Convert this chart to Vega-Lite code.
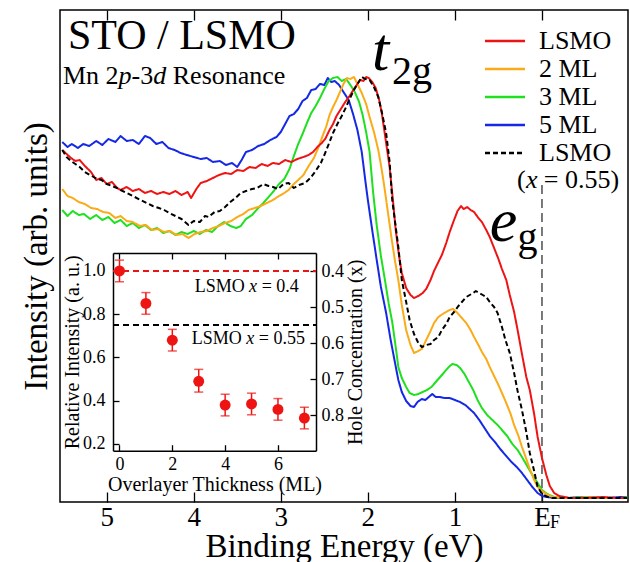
{
  "$schema": "https://vega.github.io/schema/vega-lite/v6.json",
  "width": 568,
  "height": 492,
  "autosize": "none",
  "padding": {"left": 60, "top": 10, "right": 2, "bottom": 60},
  "background": "white",
  "config": {
    "view": {"stroke": "black", "strokeWidth": 1.5},
    "font": "Times New Roman, Liberation Serif, DejaVu Serif, serif",
    "axis": {"labelFont": "Times New Roman, Liberation Serif, DejaVu Serif, serif", "titleFont": "Times New Roman, Liberation Serif, DejaVu Serif, serif", "titleFontWeight": "normal", "labelColor": "black", "titleColor": "black", "tickColor": "black", "domainColor": "black", "grid": false, "labelFlush": false, "labelOverlap": false, "tickWidth": 1.3, "domainWidth": 1.5},
    "legend": {"labelFont": "Times New Roman, Liberation Serif, DejaVu Serif, serif"},
    "text": {"font": "Times New Roman, Liberation Serif, DejaVu Serif, serif", "color": "black"}
  },
  "datasets": {
    "spectra": [
      {"s":"5 ML","e":5.51,"i":360},{"s":"5 ML","e":5.45,"i":355},{"s":"5 ML","e":5.40,"i":358},{"s":"5 ML","e":5.33,"i":354},{"s":"5 ML","e":5.27,"i":358},{"s":"5 ML","e":5.20,"i":356},{"s":"5 ML","e":5.12,"i":361},{"s":"5 ML","e":5.05,"i":357},{"s":"5 ML","e":4.98,"i":363},{"s":"5 ML","e":4.90,"i":360},{"s":"5 ML","e":4.84,"i":366},{"s":"5 ML","e":4.77,"i":361},{"s":"5 ML","e":4.70,"i":362},{"s":"5 ML","e":4.63,"i":358},{"s":"5 ML","e":4.56,"i":366},{"s":"5 ML","e":4.50,"i":364},{"s":"5 ML","e":4.43,"i":358},{"s":"5 ML","e":4.36,"i":360},{"s":"5 ML","e":4.29,"i":354},{"s":"5 ML","e":4.22,"i":352},{"s":"5 ML","e":4.15,"i":349},{"s":"5 ML","e":4.08,"i":347},{"s":"5 ML","e":4.00,"i":345},{"s":"5 ML","e":3.92,"i":343},{"s":"5 ML","e":3.85,"i":344},{"s":"5 ML","e":3.78,"i":340},{"s":"5 ML","e":3.70,"i":341},{"s":"5 ML","e":3.63,"i":337},{"s":"5 ML","e":3.56,"i":339},{"s":"5 ML","e":3.50,"i":335},{"s":"5 ML","e":3.45,"i":342},{"s":"5 ML","e":3.40,"i":350},{"s":"5 ML","e":3.33,"i":352},{"s":"5 ML","e":3.26,"i":356},{"s":"5 ML","e":3.19,"i":358},{"s":"5 ML","e":3.12,"i":362},{"s":"5 ML","e":3.05,"i":365},{"s":"5 ML","e":3.00,"i":370},{"s":"5 ML","e":2.95,"i":378},{"s":"5 ML","e":2.90,"i":386},{"s":"5 ML","e":2.85,"i":388},{"s":"5 ML","e":2.80,"i":393},{"s":"5 ML","e":2.75,"i":401},{"s":"5 ML","e":2.70,"i":404},{"s":"5 ML","e":2.65,"i":412},{"s":"5 ML","e":2.60,"i":413},{"s":"5 ML","e":2.55,"i":418},{"s":"5 ML","e":2.50,"i":417},{"s":"5 ML","e":2.46,"i":424},{"s":"5 ML","e":2.42,"i":420},{"s":"5 ML","e":2.38,"i":421},{"s":"5 ML","e":2.33,"i":417},{"s":"5 ML","e":2.28,"i":410},{"s":"5 ML","e":2.22,"i":402},{"s":"5 ML","e":2.17,"i":388},{"s":"5 ML","e":2.12,"i":372},{"s":"5 ML","e":2.07,"i":350},{"s":"5 ML","e":2.03,"i":322},{"s":"5 ML","e":2.00,"i":302},{"s":"5 ML","e":1.95,"i":272},{"s":"5 ML","e":1.90,"i":243},{"s":"5 ML","e":1.85,"i":215},{"s":"5 ML","e":1.79,"i":189},{"s":"5 ML","e":1.74,"i":163},{"s":"5 ML","e":1.69,"i":140},{"s":"5 ML","e":1.65,"i":122},{"s":"5 ML","e":1.61,"i":110},{"s":"5 ML","e":1.56,"i":101},{"s":"5 ML","e":1.51,"i":96},{"s":"5 ML","e":1.47,"i":95},{"s":"5 ML","e":1.43,"i":100},{"s":"5 ML","e":1.38,"i":103},{"s":"5 ML","e":1.34,"i":102},{"s":"5 ML","e":1.30,"i":105},{"s":"5 ML","e":1.26,"i":108},{"s":"5 ML","e":1.22,"i":105},{"s":"5 ML","e":1.17,"i":105},{"s":"5 ML","e":1.12,"i":104},{"s":"5 ML","e":1.06,"i":104},{"s":"5 ML","e":1.00,"i":102},{"s":"5 ML","e":0.94,"i":100},{"s":"5 ML","e":0.88,"i":97},{"s":"5 ML","e":0.83,"i":93},{"s":"5 ML","e":0.78,"i":89},{"s":"5 ML","e":0.72,"i":82},{"s":"5 ML","e":0.66,"i":74},{"s":"5 ML","e":0.60,"i":66},{"s":"5 ML","e":0.54,"i":60},{"s":"5 ML","e":0.48,"i":53},{"s":"5 ML","e":0.41,"i":46},{"s":"5 ML","e":0.35,"i":40},{"s":"5 ML","e":0.29,"i":35},{"s":"5 ML","e":0.23,"i":29},{"s":"5 ML","e":0.17,"i":22},{"s":"5 ML","e":0.11,"i":15},{"s":"5 ML","e":0.05,"i":9},{"s":"5 ML","e":0.00,"i":6},{"s":"5 ML","e":-0.05,"i":5},{"s":"5 ML","e":-0.15,"i":4},{"s":"5 ML","e":-0.30,"i":4},{"s":"5 ML","e":-0.45,"i":5},{"s":"5 ML","e":-0.60,"i":4},{"s":"5 ML","e":-0.75,"i":4},{"s":"5 ML","e":-0.90,"i":5},{"s":"5 ML","e":-0.98,"i":5},

      {"s":"3 ML","e":5.51,"i":292},{"s":"3 ML","e":5.45,"i":286},{"s":"3 ML","e":5.39,"i":291},{"s":"3 ML","e":5.32,"i":287},{"s":"3 ML","e":5.26,"i":288},{"s":"3 ML","e":5.19,"i":283},{"s":"3 ML","e":5.12,"i":287},{"s":"3 ML","e":5.05,"i":282},{"s":"3 ML","e":4.98,"i":285},{"s":"3 ML","e":4.91,"i":279},{"s":"3 ML","e":4.84,"i":282},{"s":"3 ML","e":4.77,"i":276},{"s":"3 ML","e":4.70,"i":279},{"s":"3 ML","e":4.63,"i":274},{"s":"3 ML","e":4.56,"i":277},{"s":"3 ML","e":4.49,"i":272},{"s":"3 ML","e":4.42,"i":274},{"s":"3 ML","e":4.35,"i":269},{"s":"3 ML","e":4.28,"i":271},{"s":"3 ML","e":4.21,"i":267},{"s":"3 ML","e":4.14,"i":270},{"s":"3 ML","e":4.07,"i":268},{"s":"3 ML","e":4.00,"i":271},{"s":"3 ML","e":3.93,"i":268},{"s":"3 ML","e":3.86,"i":272},{"s":"3 ML","e":3.79,"i":270},{"s":"3 ML","e":3.72,"i":276},{"s":"3 ML","e":3.65,"i":280},{"s":"3 ML","e":3.58,"i":276},{"s":"3 ML","e":3.51,"i":274},{"s":"3 ML","e":3.46,"i":276},{"s":"3 ML","e":3.40,"i":283},{"s":"3 ML","e":3.33,"i":287},{"s":"3 ML","e":3.27,"i":293},{"s":"3 ML","e":3.20,"i":299},{"s":"3 ML","e":3.14,"i":305},{"s":"3 ML","e":3.09,"i":310},{"s":"3 ML","e":3.02,"i":318},{"s":"3 ML","e":2.96,"i":323},{"s":"3 ML","e":2.90,"i":333},{"s":"3 ML","e":2.85,"i":346},{"s":"3 ML","e":2.80,"i":358},{"s":"3 ML","e":2.75,"i":368},{"s":"3 ML","e":2.70,"i":379},{"s":"3 ML","e":2.65,"i":389},{"s":"3 ML","e":2.60,"i":396},{"s":"3 ML","e":2.55,"i":404},{"s":"3 ML","e":2.50,"i":413},{"s":"3 ML","e":2.45,"i":421},{"s":"3 ML","e":2.40,"i":424},{"s":"3 ML","e":2.35,"i":425},{"s":"3 ML","e":2.30,"i":421},{"s":"3 ML","e":2.25,"i":423},{"s":"3 ML","e":2.20,"i":417},{"s":"3 ML","e":2.15,"i":410},{"s":"3 ML","e":2.10,"i":400},{"s":"3 ML","e":2.06,"i":387},{"s":"3 ML","e":2.02,"i":370},{"s":"3 ML","e":1.98,"i":350},{"s":"3 ML","e":1.94,"i":310},{"s":"3 ML","e":1.90,"i":278},{"s":"3 ML","e":1.85,"i":246},{"s":"3 ML","e":1.80,"i":220},{"s":"3 ML","e":1.76,"i":198},{"s":"3 ML","e":1.72,"i":180},{"s":"3 ML","e":1.68,"i":155},{"s":"3 ML","e":1.65,"i":135},{"s":"3 ML","e":1.61,"i":124},{"s":"3 ML","e":1.56,"i":115},{"s":"3 ML","e":1.52,"i":109},{"s":"3 ML","e":1.47,"i":107},{"s":"3 ML","e":1.42,"i":108},{"s":"3 ML","e":1.37,"i":110},{"s":"3 ML","e":1.32,"i":112},{"s":"3 ML","e":1.27,"i":115},{"s":"3 ML","e":1.22,"i":120},{"s":"3 ML","e":1.17,"i":125},{"s":"3 ML","e":1.12,"i":130},{"s":"3 ML","e":1.07,"i":135},{"s":"3 ML","e":1.03,"i":138},{"s":"3 ML","e":0.98,"i":137},{"s":"3 ML","e":0.94,"i":134},{"s":"3 ML","e":0.89,"i":128},{"s":"3 ML","e":0.84,"i":120},{"s":"3 ML","e":0.79,"i":112},{"s":"3 ML","e":0.74,"i":102},{"s":"3 ML","e":0.69,"i":94},{"s":"3 ML","e":0.63,"i":87},{"s":"3 ML","e":0.57,"i":82},{"s":"3 ML","e":0.51,"i":77},{"s":"3 ML","e":0.46,"i":72},{"s":"3 ML","e":0.40,"i":66},{"s":"3 ML","e":0.34,"i":58},{"s":"3 ML","e":0.28,"i":52},{"s":"3 ML","e":0.23,"i":45},{"s":"3 ML","e":0.17,"i":36},{"s":"3 ML","e":0.11,"i":27},{"s":"3 ML","e":0.05,"i":19},{"s":"3 ML","e":0.00,"i":12},{"s":"3 ML","e":-0.06,"i":8},{"s":"3 ML","e":-0.14,"i":5},{"s":"3 ML","e":-0.30,"i":4},{"s":"3 ML","e":-0.50,"i":5},{"s":"3 ML","e":-0.70,"i":4},{"s":"3 ML","e":-0.90,"i":4},{"s":"3 ML","e":-0.98,"i":5},

      {"s":"2 ML","e":5.51,"i":313},{"s":"2 ML","e":5.45,"i":306},{"s":"2 ML","e":5.39,"i":304},{"s":"2 ML","e":5.32,"i":300},{"s":"2 ML","e":5.25,"i":298},{"s":"2 ML","e":5.18,"i":294},{"s":"2 ML","e":5.11,"i":293},{"s":"2 ML","e":5.04,"i":290},{"s":"2 ML","e":4.97,"i":289},{"s":"2 ML","e":4.90,"i":284},{"s":"2 ML","e":4.84,"i":286},{"s":"2 ML","e":4.77,"i":281},{"s":"2 ML","e":4.70,"i":280},{"s":"2 ML","e":4.62,"i":276},{"s":"2 ML","e":4.55,"i":277},{"s":"2 ML","e":4.48,"i":272},{"s":"2 ML","e":4.41,"i":273},{"s":"2 ML","e":4.34,"i":270},{"s":"2 ML","e":4.27,"i":271},{"s":"2 ML","e":4.20,"i":267},{"s":"2 ML","e":4.13,"i":268},{"s":"2 ML","e":4.06,"i":264},{"s":"2 ML","e":3.99,"i":268},{"s":"2 ML","e":3.92,"i":270},{"s":"2 ML","e":3.85,"i":271},{"s":"2 ML","e":3.78,"i":274},{"s":"2 ML","e":3.71,"i":276},{"s":"2 ML","e":3.64,"i":279},{"s":"2 ML","e":3.57,"i":281},{"s":"2 ML","e":3.50,"i":285},{"s":"2 ML","e":3.43,"i":288},{"s":"2 ML","e":3.37,"i":292},{"s":"2 ML","e":3.30,"i":294},{"s":"2 ML","e":3.23,"i":296},{"s":"2 ML","e":3.16,"i":299},{"s":"2 ML","e":3.09,"i":302},{"s":"2 ML","e":3.02,"i":306},{"s":"2 ML","e":2.96,"i":309},{"s":"2 ML","e":2.91,"i":312},{"s":"2 ML","e":2.85,"i":318},{"s":"2 ML","e":2.80,"i":322},{"s":"2 ML","e":2.74,"i":327},{"s":"2 ML","e":2.68,"i":336},{"s":"2 ML","e":2.62,"i":344},{"s":"2 ML","e":2.57,"i":354},{"s":"2 ML","e":2.52,"i":366},{"s":"2 ML","e":2.48,"i":375},{"s":"2 ML","e":2.44,"i":387},{"s":"2 ML","e":2.40,"i":395},{"s":"2 ML","e":2.36,"i":402},{"s":"2 ML","e":2.32,"i":410},{"s":"2 ML","e":2.28,"i":418},{"s":"2 ML","e":2.24,"i":424},{"s":"2 ML","e":2.20,"i":423},{"s":"2 ML","e":2.16,"i":425},{"s":"2 ML","e":2.12,"i":418},{"s":"2 ML","e":2.07,"i":409},{"s":"2 ML","e":2.02,"i":398},{"s":"2 ML","e":1.98,"i":385},{"s":"2 ML","e":1.93,"i":370},{"s":"2 ML","e":1.88,"i":352},{"s":"2 ML","e":1.84,"i":332},{"s":"2 ML","e":1.81,"i":315},{"s":"2 ML","e":1.77,"i":290},{"s":"2 ML","e":1.73,"i":265},{"s":"2 ML","e":1.69,"i":242},{"s":"2 ML","e":1.65,"i":222},{"s":"2 ML","e":1.61,"i":197},{"s":"2 ML","e":1.56,"i":172},{"s":"2 ML","e":1.51,"i":157},{"s":"2 ML","e":1.47,"i":149},{"s":"2 ML","e":1.42,"i":151},{"s":"2 ML","e":1.38,"i":153},{"s":"2 ML","e":1.33,"i":162},{"s":"2 ML","e":1.28,"i":171},{"s":"2 ML","e":1.24,"i":179},{"s":"2 ML","e":1.19,"i":185},{"s":"2 ML","e":1.14,"i":188},{"s":"2 ML","e":1.10,"i":190},{"s":"2 ML","e":1.06,"i":192},{"s":"2 ML","e":1.02,"i":193},{"s":"2 ML","e":0.97,"i":189},{"s":"2 ML","e":0.92,"i":184},{"s":"2 ML","e":0.87,"i":179},{"s":"2 ML","e":0.82,"i":172},{"s":"2 ML","e":0.78,"i":165},{"s":"2 ML","e":0.73,"i":157},{"s":"2 ML","e":0.69,"i":150},{"s":"2 ML","e":0.64,"i":143},{"s":"2 ML","e":0.60,"i":135},{"s":"2 ML","e":0.55,"i":126},{"s":"2 ML","e":0.50,"i":117},{"s":"2 ML","e":0.46,"i":109},{"s":"2 ML","e":0.41,"i":99},{"s":"2 ML","e":0.36,"i":88},{"s":"2 ML","e":0.32,"i":77},{"s":"2 ML","e":0.27,"i":66},{"s":"2 ML","e":0.23,"i":55},{"s":"2 ML","e":0.18,"i":43},{"s":"2 ML","e":0.14,"i":33},{"s":"2 ML","e":0.09,"i":22},{"s":"2 ML","e":0.05,"i":15},{"s":"2 ML","e":0.00,"i":11},{"s":"2 ML","e":-0.05,"i":8},{"s":"2 ML","e":-0.12,"i":5},{"s":"2 ML","e":-0.23,"i":4},{"s":"2 ML","e":-0.40,"i":4},{"s":"2 ML","e":-0.60,"i":5},{"s":"2 ML","e":-0.80,"i":4},{"s":"2 ML","e":-0.98,"i":4},

      {"s":"LSMO","e":5.51,"i":352},{"s":"LSMO","e":5.46,"i":348},{"s":"LSMO","e":5.41,"i":344},{"s":"LSMO","e":5.36,"i":341},{"s":"LSMO","e":5.31,"i":342},{"s":"LSMO","e":5.25,"i":336},{"s":"LSMO","e":5.18,"i":330},{"s":"LSMO","e":5.12,"i":322},{"s":"LSMO","e":5.06,"i":324},{"s":"LSMO","e":5.00,"i":318},{"s":"LSMO","e":4.94,"i":320},{"s":"LSMO","e":4.88,"i":314},{"s":"LSMO","e":4.84,"i":312},{"s":"LSMO","e":4.77,"i":315},{"s":"LSMO","e":4.70,"i":311},{"s":"LSMO","e":4.63,"i":313},{"s":"LSMO","e":4.56,"i":309},{"s":"LSMO","e":4.49,"i":311},{"s":"LSMO","e":4.42,"i":308},{"s":"LSMO","e":4.35,"i":310},{"s":"LSMO","e":4.28,"i":308},{"s":"LSMO","e":4.21,"i":311},{"s":"LSMO","e":4.14,"i":307},{"s":"LSMO","e":4.07,"i":310},{"s":"LSMO","e":4.03,"i":304},{"s":"LSMO","e":3.97,"i":313},{"s":"LSMO","e":3.92,"i":319},{"s":"LSMO","e":3.85,"i":321},{"s":"LSMO","e":3.78,"i":324},{"s":"LSMO","e":3.71,"i":327},{"s":"LSMO","e":3.64,"i":329},{"s":"LSMO","e":3.57,"i":328},{"s":"LSMO","e":3.50,"i":332},{"s":"LSMO","e":3.43,"i":331},{"s":"LSMO","e":3.36,"i":335},{"s":"LSMO","e":3.29,"i":334},{"s":"LSMO","e":3.22,"i":338},{"s":"LSMO","e":3.15,"i":336},{"s":"LSMO","e":3.09,"i":339},{"s":"LSMO","e":3.02,"i":338},{"s":"LSMO","e":2.95,"i":342},{"s":"LSMO","e":2.88,"i":340},{"s":"LSMO","e":2.81,"i":343},{"s":"LSMO","e":2.74,"i":345},{"s":"LSMO","e":2.68,"i":347},{"s":"LSMO","e":2.63,"i":350},{"s":"LSMO","e":2.58,"i":355},{"s":"LSMO","e":2.53,"i":359},{"s":"LSMO","e":2.49,"i":363},{"s":"LSMO","e":2.44,"i":372},{"s":"LSMO","e":2.40,"i":378},{"s":"LSMO","e":2.36,"i":386},{"s":"LSMO","e":2.31,"i":393},{"s":"LSMO","e":2.26,"i":400},{"s":"LSMO","e":2.21,"i":406},{"s":"LSMO","e":2.16,"i":413},{"s":"LSMO","e":2.12,"i":418},{"s":"LSMO","e":2.09,"i":422},{"s":"LSMO","e":2.05,"i":421},{"s":"LSMO","e":2.02,"i":425},{"s":"LSMO","e":1.99,"i":424},{"s":"LSMO","e":1.95,"i":420},{"s":"LSMO","e":1.91,"i":414},{"s":"LSMO","e":1.87,"i":402},{"s":"LSMO","e":1.84,"i":389},{"s":"LSMO","e":1.80,"i":365},{"s":"LSMO","e":1.75,"i":335},{"s":"LSMO","e":1.71,"i":300},{"s":"LSMO","e":1.68,"i":272},{"s":"LSMO","e":1.64,"i":245},{"s":"LSMO","e":1.61,"i":229},{"s":"LSMO","e":1.56,"i":214},{"s":"LSMO","e":1.51,"i":207},{"s":"LSMO","e":1.47,"i":204},{"s":"LSMO","e":1.42,"i":206},{"s":"LSMO","e":1.37,"i":209},{"s":"LSMO","e":1.33,"i":213},{"s":"LSMO","e":1.28,"i":222},{"s":"LSMO","e":1.24,"i":231},{"s":"LSMO","e":1.19,"i":240},{"s":"LSMO","e":1.15,"i":247},{"s":"LSMO","e":1.10,"i":259},{"s":"LSMO","e":1.06,"i":270},{"s":"LSMO","e":1.01,"i":282},{"s":"LSMO","e":0.97,"i":291},{"s":"LSMO","e":0.93,"i":296},{"s":"LSMO","e":0.90,"i":293},{"s":"LSMO","e":0.86,"i":295},{"s":"LSMO","e":0.82,"i":292},{"s":"LSMO","e":0.78,"i":290},{"s":"LSMO","e":0.73,"i":284},{"s":"LSMO","e":0.69,"i":280},{"s":"LSMO","e":0.64,"i":272},{"s":"LSMO","e":0.60,"i":265},{"s":"LSMO","e":0.55,"i":254},{"s":"LSMO","e":0.50,"i":243},{"s":"LSMO","e":0.46,"i":233},{"s":"LSMO","e":0.41,"i":222},{"s":"LSMO","e":0.37,"i":207},{"s":"LSMO","e":0.32,"i":190},{"s":"LSMO","e":0.28,"i":172},{"s":"LSMO","e":0.23,"i":148},{"s":"LSMO","e":0.18,"i":125},{"s":"LSMO","e":0.14,"i":112},{"s":"LSMO","e":0.09,"i":88},{"s":"LSMO","e":0.05,"i":65},{"s":"LSMO","e":0.00,"i":44},{"s":"LSMO","e":-0.05,"i":27},{"s":"LSMO","e":-0.09,"i":16},{"s":"LSMO","e":-0.14,"i":9},{"s":"LSMO","e":-0.20,"i":6},{"s":"LSMO","e":-0.32,"i":4},{"s":"LSMO","e":-0.50,"i":4},{"s":"LSMO","e":-0.70,"i":5},{"s":"LSMO","e":-0.85,"i":4},{"s":"LSMO","e":-0.98,"i":4},

      {"s":"LSMO55","e":5.51,"i":352},{"s":"LSMO55","e":5.46,"i":345},{"s":"LSMO55","e":5.41,"i":341},{"s":"LSMO55","e":5.36,"i":338},{"s":"LSMO55","e":5.31,"i":335},{"s":"LSMO55","e":5.25,"i":330},{"s":"LSMO55","e":5.19,"i":327},{"s":"LSMO55","e":5.13,"i":324},{"s":"LSMO55","e":5.06,"i":322},{"s":"LSMO55","e":5.00,"i":318},{"s":"LSMO55","e":4.94,"i":316},{"s":"LSMO55","e":4.88,"i":314},{"s":"LSMO55","e":4.84,"i":312},{"s":"LSMO55","e":4.77,"i":309},{"s":"LSMO55","e":4.70,"i":306},{"s":"LSMO55","e":4.61,"i":302},{"s":"LSMO55","e":4.54,"i":299},{"s":"LSMO55","e":4.47,"i":296},{"s":"LSMO55","e":4.40,"i":294},{"s":"LSMO55","e":4.34,"i":292},{"s":"LSMO55","e":4.28,"i":289},{"s":"LSMO55","e":4.21,"i":286},{"s":"LSMO55","e":4.14,"i":283},{"s":"LSMO55","e":4.06,"i":277},{"s":"LSMO55","e":4.00,"i":281},{"s":"LSMO55","e":3.93,"i":280},{"s":"LSMO55","e":3.87,"i":286},{"s":"LSMO55","e":3.83,"i":285},{"s":"LSMO55","e":3.76,"i":290},{"s":"LSMO55","e":3.70,"i":291},{"s":"LSMO55","e":3.64,"i":295},{"s":"LSMO55","e":3.58,"i":300},{"s":"LSMO55","e":3.52,"i":304},{"s":"LSMO55","e":3.46,"i":309},{"s":"LSMO55","e":3.40,"i":311},{"s":"LSMO55","e":3.33,"i":313},{"s":"LSMO55","e":3.27,"i":314},{"s":"LSMO55","e":3.20,"i":318},{"s":"LSMO55","e":3.14,"i":316},{"s":"LSMO55","e":3.09,"i":315},{"s":"LSMO55","e":3.03,"i":313},{"s":"LSMO55","e":2.97,"i":318},{"s":"LSMO55","e":2.91,"i":319},{"s":"LSMO55","e":2.85,"i":314},{"s":"LSMO55","e":2.79,"i":317},{"s":"LSMO55","e":2.72,"i":319},{"s":"LSMO55","e":2.66,"i":324},{"s":"LSMO55","e":2.60,"i":331},{"s":"LSMO55","e":2.54,"i":339},{"s":"LSMO55","e":2.49,"i":349},{"s":"LSMO55","e":2.44,"i":360},{"s":"LSMO55","e":2.40,"i":369},{"s":"LSMO55","e":2.35,"i":378},{"s":"LSMO55","e":2.30,"i":386},{"s":"LSMO55","e":2.25,"i":395},{"s":"LSMO55","e":2.21,"i":403},{"s":"LSMO55","e":2.16,"i":412},{"s":"LSMO55","e":2.12,"i":418},{"s":"LSMO55","e":2.07,"i":425},{"s":"LSMO55","e":2.03,"i":423},{"s":"LSMO55","e":1.98,"i":422},{"s":"LSMO55","e":1.93,"i":415},{"s":"LSMO55","e":1.88,"i":405},{"s":"LSMO55","e":1.84,"i":390},{"s":"LSMO55","e":1.79,"i":369},{"s":"LSMO55","e":1.75,"i":340},{"s":"LSMO55","e":1.72,"i":302},{"s":"LSMO55","e":1.68,"i":275},{"s":"LSMO55","e":1.65,"i":255},{"s":"LSMO55","e":1.61,"i":222},{"s":"LSMO55","e":1.56,"i":200},{"s":"LSMO55","e":1.52,"i":182},{"s":"LSMO55","e":1.47,"i":168},{"s":"LSMO55","e":1.42,"i":159},{"s":"LSMO55","e":1.38,"i":155},{"s":"LSMO55","e":1.33,"i":157},{"s":"LSMO55","e":1.28,"i":158},{"s":"LSMO55","e":1.24,"i":162},{"s":"LSMO55","e":1.19,"i":165},{"s":"LSMO55","e":1.15,"i":172},{"s":"LSMO55","e":1.10,"i":178},{"s":"LSMO55","e":1.06,"i":185},{"s":"LSMO55","e":1.01,"i":190},{"s":"LSMO55","e":0.96,"i":196},{"s":"LSMO55","e":0.92,"i":200},{"s":"LSMO55","e":0.87,"i":205},{"s":"LSMO55","e":0.83,"i":207},{"s":"LSMO55","e":0.79,"i":209},{"s":"LSMO55","e":0.76,"i":211},{"s":"LSMO55","e":0.72,"i":209},{"s":"LSMO55","e":0.68,"i":207},{"s":"LSMO55","e":0.64,"i":205},{"s":"LSMO55","e":0.60,"i":200},{"s":"LSMO55","e":0.55,"i":195},{"s":"LSMO55","e":0.51,"i":189},{"s":"LSMO55","e":0.46,"i":175},{"s":"LSMO55","e":0.42,"i":162},{"s":"LSMO55","e":0.37,"i":149},{"s":"LSMO55","e":0.32,"i":129},{"s":"LSMO55","e":0.28,"i":111},{"s":"LSMO55","e":0.23,"i":92},{"s":"LSMO55","e":0.18,"i":70},{"s":"LSMO55","e":0.14,"i":49},{"s":"LSMO55","e":0.09,"i":31},{"s":"LSMO55","e":0.05,"i":15},{"s":"LSMO55","e":0.00,"i":8},{"s":"LSMO55","e":-0.09,"i":4},{"s":"LSMO55","e":-0.25,"i":4},{"s":"LSMO55","e":-0.45,"i":4},{"s":"LSMO55","e":-0.65,"i":4},{"s":"LSMO55","e":-0.85,"i":4},{"s":"LSMO55","e":-0.98,"i":4}
    ],
    "inset": [
      {"n":0,"v":1.0,"lo":0.95,"hi":1.05},
      {"n":1,"v":0.85,"lo":0.80,"hi":0.90},
      {"n":2,"v":0.68,"lo":0.63,"hi":0.73},
      {"n":3,"v":0.49,"lo":0.44,"hi":0.545},
      {"n":4,"v":0.38,"lo":0.33,"hi":0.43},
      {"n":5,"v":0.385,"lo":0.335,"hi":0.435},
      {"n":6,"v":0.36,"lo":0.31,"hi":0.41},
      {"n":7,"v":0.32,"lo":0.27,"hi":0.37}
    ]
  },
  "layer": [
    {
      "layer": [
        {
          "data": {"values": [{"e": 0, "i0": 0, "i1": 317}]},
          "mark": {"type": "rule", "strokeDash": [9, 5], "strokeWidth": 1.2, "color": "#222222"},
          "encoding": {
            "x": {"field": "e", "type": "quantitative"},
            "y": {"field": "i0", "type": "quantitative"},
            "y2": {"field": "i1"}
          }
        },
        {
          "data": {"name": "spectra"},
          "mark": {"type": "line", "strokeWidth": 2, "strokeJoin": "round", "clip": true},
          "encoding": {
            "x": {"field": "e", "type": "quantitative",
              "scale": {"domain": [-0.988, 5.536], "reverse": true, "nice": false, "zero": false},
              "axis": {"orient": "bottom", "values": [5, 4, 3, 2, 1, 0], "format": "d", "labelExpr": "datum.value == 0 ? 'E' : datum.label", "labelFontSize": 27, "tickSize": -10, "labelPadding": 12, "domain": false, "title": "Binding Energy (eV)", "titleFontSize": 33, "titlePadding": 0}},
            "y": {"field": "i", "type": "quantitative",
              "scale": {"domain": [0, 492], "nice": false, "zero": false},
              "axis": {"orient": "left", "ticks": false, "labels": false, "domain": false, "title": "Intensity (arb. units)", "titleFontSize": 33, "titlePadding": 7}},
            "color": {"field": "s", "type": "nominal",
              "scale": {"domain": ["LSMO", "2 ML", "3 ML", "5 ML", "LSMO55"], "range": ["#ee1414", "#fbab18", "#1ee01e", "#1428e6", "#000000"]},
              "legend": {"orient": "none", "legendX": 432, "legendY": 18, "title": null, "padding": 0, "symbolType": "M-2,0H2", "symbolSize": 400, "symbolStrokeWidth": 2.5, "labelFontSize": 26, "labelColor": "black", "labelOffset": 21, "rowPadding": 2, "labelExpr": "datum.value == 'LSMO55' ? 'LSMO' : datum.label"}},
            "strokeDash": {"field": "s", "type": "nominal",
              "scale": {"domain": ["LSMO", "2 ML", "3 ML", "5 ML", "LSMO55"], "range": [[1, 0], [1, 0], [1, 0], [1, 0], [5, 3]]},
              "legend": {"orient": "none", "legendX": 432, "legendY": 18, "title": null, "padding": 0, "symbolType": "M-2,0H2", "symbolSize": 400, "symbolStrokeWidth": 2.5, "labelFontSize": 26, "labelColor": "black", "labelOffset": 21, "rowPadding": 2, "labelExpr": "datum.value == 'LSMO55' ? 'LSMO' : datum.label"}}
          }
        },
        {
          "data": {"values": [{"t": "STO / LSMO", "e": 5.445, "i": 453}]},
          "mark": {"type": "text", "align": "left", "baseline": "alphabetic", "fontSize": 42},
          "encoding": {"x": {"field": "e", "type": "quantitative"}, "y": {"field": "i", "type": "quantitative"}, "text": {"field": "t"}}
        },
        {
          "data": {"values": [{"t": "Mn 2", "e": 5.502, "i": 418}, {"t": "-3", "e": 4.714, "i": 418}, {"t": "Resonance", "e": 4.241, "i": 418}, {"t": "(", "e": 0.287, "i": 314}, {"t": "= 0.55)", "e": -0.02, "i": 314}]},
          "mark": {"type": "text", "align": "left", "baseline": "alphabetic", "fontSize": 26},
          "encoding": {"x": {"field": "e", "type": "quantitative"}, "y": {"field": "i", "type": "quantitative"}, "text": {"field": "t"}}
        },
        {
          "data": {"values": [{"t": "p", "e": 4.863, "i": 418}, {"t": "d", "e": 4.465, "i": 418}, {"t": "x", "e": 0.184, "i": 314}]},
          "mark": {"type": "text", "align": "left", "baseline": "alphabetic", "fontSize": 26, "fontStyle": "italic"},
          "encoding": {"x": {"field": "e", "type": "quantitative"}, "y": {"field": "i", "type": "quantitative"}, "text": {"field": "t"}}
        },
        {
          "data": {"values": [{"t": "t", "e": 1.953, "i": 432}]},
          "mark": {"type": "text", "align": "left", "baseline": "alphabetic", "fontSize": 62, "fontStyle": "italic"},
          "encoding": {"x": {"field": "e", "type": "quantitative"}, "y": {"field": "i", "type": "quantitative"}, "text": {"field": "t"}}
        },
        {
          "data": {"values": [{"t": "e", "e": 0.6, "i": 261}]},
          "mark": {"type": "text", "align": "left", "baseline": "alphabetic", "fontSize": 62, "fontStyle": "italic"},
          "encoding": {"x": {"field": "e", "type": "quantitative"}, "y": {"field": "i", "type": "quantitative"}, "text": {"field": "t"}}
        },
        {
          "data": {"values": [{"t": "2g", "e": 1.723, "i": 418}, {"t": "g", "e": 0.28, "i": 252}]},
          "mark": {"type": "text", "align": "left", "baseline": "alphabetic", "fontSize": 40},
          "encoding": {"x": {"field": "e", "type": "quantitative"}, "y": {"field": "i", "type": "quantitative"}, "text": {"field": "t"}}
        },
        {
          "data": {"values": [{"t": "F", "e": 0, "i": 0}]},
          "mark": {"type": "text", "align": "left", "baseline": "alphabetic", "fontSize": 18, "dx": 8, "dy": 26},
          "encoding": {"x": {"field": "e", "type": "quantitative"}, "y": {"field": "i", "type": "quantitative"}, "text": {"field": "t"}}
        }
      ]
    },
    {
      "data": {"values": [{"e": 0}]},
      "mark": {"type": "point", "opacity": 0},
      "encoding": {
        "x": {"field": "e", "type": "quantitative",
          "scale": {"domain": [-0.988, 5.536], "reverse": true, "nice": false, "zero": false},
          "axis": {"orient": "top", "values": [5, 4, 3, 2, 1, 0], "labels": false, "tickSize": -10, "domain": false, "title": null}}
      }
    },
    {
      "layer": [
        {
          "layer": [
            {
              "data": {"name": "inset"},
              "mark": {"type": "rule", "color": "#ee1414", "strokeWidth": 1.5},
              "encoding": {
                "x": {"field": "n", "type": "quantitative",
                  "scale": {"domain": [-0.246, 7.44], "range": [53, 256], "nice": false, "zero": false},
                  "axis": {"orient": "bottom", "offset": -51.3, "values": [0, 2, 4, 6], "format": "d", "tickSize": -6, "labelPadding": 11, "labelFontSize": 18, "title": "Overlayer Thickness (ML)", "titleFontSize": 20, "titlePadding": 1}},
                "y": {"field": "lo", "type": "quantitative",
                  "scale": {"domain": [0.169, 1.083], "range": [440.7, 243], "nice": false, "zero": false},
                  "axis": {"orient": "left", "offset": -53, "values": [0.2, 0.4, 0.6, 0.8, 1.0], "format": ".1f", "tickSize": -6, "labelPadding": 14, "labelFontSize": 18, "title": "Relative Intensity (a. u.)", "titleFontSize": 20, "titlePadding": 0}},
                "y2": {"field": "hi"}
              }
            },
            {
              "data": {"name": "inset"},
              "mark": {"type": "tick", "orient": "horizontal", "color": "#ee1414", "size": 9, "thickness": 1.5},
              "encoding": {"x": {"field": "n", "type": "quantitative"}, "y": {"field": "hi", "type": "quantitative"}}
            },
            {
              "data": {"name": "inset"},
              "mark": {"type": "tick", "orient": "horizontal", "color": "#ee1414", "size": 9, "thickness": 1.5},
              "encoding": {"x": {"field": "n", "type": "quantitative"}, "y": {"field": "lo", "type": "quantitative"}}
            },
            {
              "data": {"name": "inset"},
              "mark": {"type": "circle", "color": "#ee1414", "size": 120, "opacity": 1},
              "encoding": {"x": {"field": "n", "type": "quantitative"}, "y": {"field": "v", "type": "quantitative"}}
            },
            {
              "data": {"values": [{"t": "= 0.4", "n": 6.79, "v": 0.903}, {"t": "LSMO", "n": 4.74, "v": 0.903}, {"t": "= 0.55", "n": 7.02, "v": 0.662}, {"t": "LSMO", "n": 4.63, "v": 0.662}]},
              "mark": {"type": "text", "align": "right", "baseline": "alphabetic", "fontSize": 18},
              "encoding": {"x": {"field": "n", "type": "quantitative"}, "y": {"field": "v", "type": "quantitative"}, "text": {"field": "t"}}
            },
            {
              "data": {"values": [{"t": "x", "n": 5.21, "v": 0.903}, {"t": "x", "n": 5.10, "v": 0.662}]},
              "mark": {"type": "text", "align": "right", "baseline": "alphabetic", "fontSize": 18, "fontStyle": "italic"},
              "encoding": {"x": {"field": "n", "type": "quantitative"}, "y": {"field": "v", "type": "quantitative"}, "text": {"field": "t"}}
            }
          ]
        },
        {
          "layer": [
            {
              "data": {"values": [{"h": 0.4}]},
              "mark": {"type": "rule", "color": "#ee1414", "strokeWidth": 2, "strokeDash": [6, 4]},
              "encoding": {
                "x": {"datum": -0.246, "type": "quantitative"},
                "x2": {"datum": 7.44},
                "y": {"field": "h", "type": "quantitative",
                  "scale": {"domain": [0.35, 0.899], "range": [243, 440.7], "nice": false, "zero": false},
                  "axis": {"orient": "right", "offset": -312, "values": [0.4, 0.5, 0.6, 0.7, 0.8], "format": ".1f", "tickSize": -6, "labelPadding": 11, "labelFontSize": 18, "title": "Hole Concentration (x)", "titleFontSize": 20, "titlePadding": 2, "titleAngle": 270, "titleBaseline": "top"}}
              }
            },
            {
              "data": {"values": [{"h": 0.55}]},
              "mark": {"type": "rule", "color": "black", "strokeWidth": 2, "strokeDash": [6, 4]},
              "encoding": {
                "x": {"datum": -0.246, "type": "quantitative"},
                "x2": {"datum": 7.44},
                "y": {"field": "h", "type": "quantitative"}
              }
            }
          ]
        }
      ],
      "resolve": {"scale": {"y": "independent"}, "axis": {"y": "independent"}}
    },
    {
      "data": {"values": [{"n": 0}]},
      "mark": {"type": "point", "opacity": 0},
      "encoding": {
        "x": {"field": "n", "type": "quantitative",
          "scale": {"domain": [-0.246, 7.44], "range": [53, 256], "nice": false, "zero": false},
          "axis": {"orient": "top", "offset": -243, "values": [0, 2, 4, 6], "labels": false, "tickSize": -6, "title": null}}
      }
    }
  ],
  "resolve": {"scale": {"x": "independent", "y": "independent"}, "axis": {"x": "independent", "y": "independent"}}
}
